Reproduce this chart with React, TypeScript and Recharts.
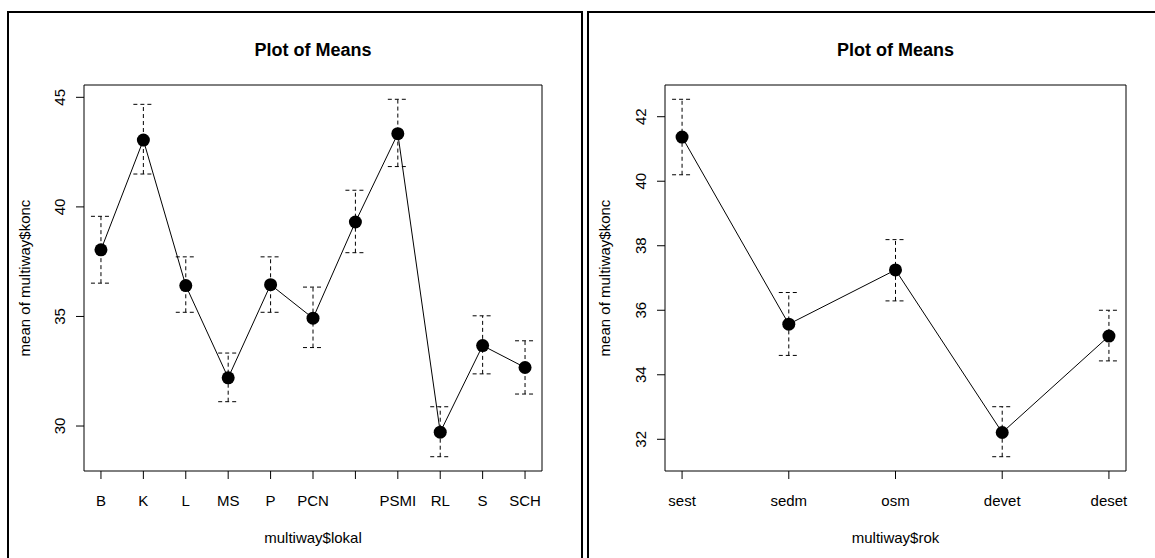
import {
  ComposedChart,
  ErrorBar,
  Line,
  ReferenceArea,
  XAxis,
  YAxis,
} from "recharts";

const FONT = '"Liberation Sans", Arial, Helvetica, sans-serif';

// left panel: means by site (the 7th label is dropped in the original plot)
const lokalCats = ["B", "K", "L", "MS", "P", "PCN", "", "PSMI", "RL", "S", "SCH"];
const lokalMean = [38.04, 43.05, 36.41, 32.2, 36.45, 34.92, 39.31, 43.34, 29.72, 33.67, 32.67];
const lokalUpper = [39.57, 44.68, 37.72, 33.33, 37.72, 36.34, 40.76, 44.91, 30.88, 35.03, 33.89];
const lokalLower = [36.52, 41.5, 35.19, 31.11, 35.19, 33.58, 37.91, 41.84, 28.6, 32.38, 31.46];
const lokalTicks = [30, 35, 40, 45];

// right panel: means by year
const rokCats = ["sest", "sedm", "osm", "devet", "deset"];
const rokMean = [41.37, 35.57, 37.25, 32.21, 35.2];
const rokUpper = [42.54, 36.55, 38.19, 33.01, 36.0];
const rokLower = [40.2, 34.6, 36.29, 31.46, 34.43];
const rokTicks = [32, 34, 36, 38, 40, 42];

const CHART_W = 572;
const CHART_H = 545;
const TOP = 72;
const X_AXIS_H = 87;

interface PanelProps {
  left: number;
  cats: string[];
  mean: number[];
  upper: number[];
  lower: number[];
  yTicks: number[];
  xTitle: string;
  yAxisW: number;
  rightM: number;
}

function YTick(props: any) {
  const { x, y, payload } = props;
  return (
    <text
      x={x}
      y={y}
      transform={`rotate(-90 ${x} ${y})`}
      textAnchor="middle"
      dominantBaseline="central"
      fontSize={15}
      fontFamily={FONT}
      fill="#000"
    >
      {payload.value}
    </text>
  );
}

function MeansPanel({ left, cats, mean, upper, lower, yTicks, xTitle, yAxisW, rightM }: PanelProps) {
  const n = cats.length;
  const data = cats.map((c, i) => ({
    x: i + 1,
    name: c,
    mean: mean[i],
    err: [mean[i] - lower[i], upper[i] - mean[i]],
  }));
  // R style 4% axis extension
  const xPad = (n - 1) * 0.04;
  const xDom = [1 - xPad, n + xPad];
  const yMin = Math.min(...lower);
  const yMax = Math.max(...upper);
  const yPad = (yMax - yMin) * 0.04;
  const yDom = [yMin - yPad, yMax + yPad];

  const plotH = CHART_H - TOP - X_AXIS_H;
  const plotCx = (yAxisW + CHART_W - rightM) / 2;
  const plotCy = TOP + plotH / 2;

  return (
    <div
      style={{
        position: "absolute",
        left,
        top: 11,
        width: CHART_W,
        height: CHART_H,
        border: "2px solid #000",
        background: "#fff",
        fontFamily: FONT,
        color: "#000",
      }}
    >
      <div
        style={{
          position: "absolute",
          left: plotCx,
          top: 37,
          transform: "translate(-50%, -50%)",
          fontSize: 18,
          fontWeight: "bold",
          lineHeight: 1,
          whiteSpace: "nowrap",
        }}
      >
        Plot of Means
      </div>
      <div
        style={{
          position: "absolute",
          left: 15,
          top: plotCy,
          transform: "translate(-50%, -50%) rotate(-90deg)",
          fontSize: 15,
          lineHeight: 1,
          whiteSpace: "nowrap",
        }}
      >
        mean of multiway$konc
      </div>
      <div
        style={{
          position: "absolute",
          left: plotCx,
          top: 523.7,
          transform: "translate(-50%, -50%)",
          fontSize: 15,
          lineHeight: 1,
          whiteSpace: "nowrap",
        }}
      >
        {xTitle}
      </div>
      <ComposedChart
        width={CHART_W}
        height={CHART_H}
        data={data}
        margin={{ top: TOP, right: rightM, bottom: 0, left: 0 }}
      >
        <XAxis
          dataKey="x"
          type="number"
          domain={xDom}
          ticks={cats.map((_, i) => i + 1)}
          allowDataOverflow
          height={X_AXIS_H}
          axisLine={false}
          tickLine={{ stroke: "#000" }}
          tickSize={8}
          tickMargin={21}
          tick={(p: any) => (
            <text
              x={p.x}
              y={p.y}
              textAnchor="middle"
              dominantBaseline="central"
              fontSize={15}
              fontFamily={FONT}
              fill="#000"
            >
              {cats[p.payload.value - 1]}
            </text>
          )}
        />
        <YAxis
          type="number"
          domain={yDom}
          ticks={yTicks}
          allowDataOverflow
          width={yAxisW}
          axisLine={false}
          tickLine={{ stroke: "#000" }}
          tickSize={8}
          tickMargin={16}
          tick={(p: any) => <YTick {...p} />}
        />
        <ReferenceArea
          x1={xDom[0]}
          x2={xDom[1]}
          y1={yDom[0]}
          y2={yDom[1]}
          fill="none"
          fillOpacity={0}
          stroke="#000"
          strokeWidth={1}
          ifOverflow="visible"
        />
        <Line
          type="linear"
          dataKey="mean"
          stroke="#000"
          strokeWidth={1}
          dot={{ r: 6.5, fill: "#000", stroke: "#000", strokeWidth: 0 }}
          activeDot={false}
          isAnimationActive={false}
        >
          <ErrorBar
            dataKey="err"
            direction="y"
            width={10}
            stroke="#000"
            strokeWidth={1}
            strokeDasharray="4 3"
            isAnimationActive={false}
          />
        </Line>
      </ComposedChart>
    </div>
  );
}

export default function App() {
  return (
    <div
      style={{
        position: "absolute",
        left: 0,
        top: 0,
        width: 1155,
        height: 558,
        overflow: "hidden",
        background: "#fff",
      }}
    >
      <MeansPanel
        left={7}
        cats={lokalCats}
        mean={lokalMean}
        upper={lokalUpper}
        lower={lokalLower}
        yTicks={lokalTicks}
        xTitle="multiway$lokal"
        yAxisW={75}
        rightM={39}
      />
      <MeansPanel
        left={587}
        cats={rokCats}
        mean={rokMean}
        upper={rokUpper}
        lower={rokLower}
        yTicks={rokTicks}
        xTitle="multiway$rok"
        yAxisW={76}
        rightM={35}
      />
    </div>
  );
}
